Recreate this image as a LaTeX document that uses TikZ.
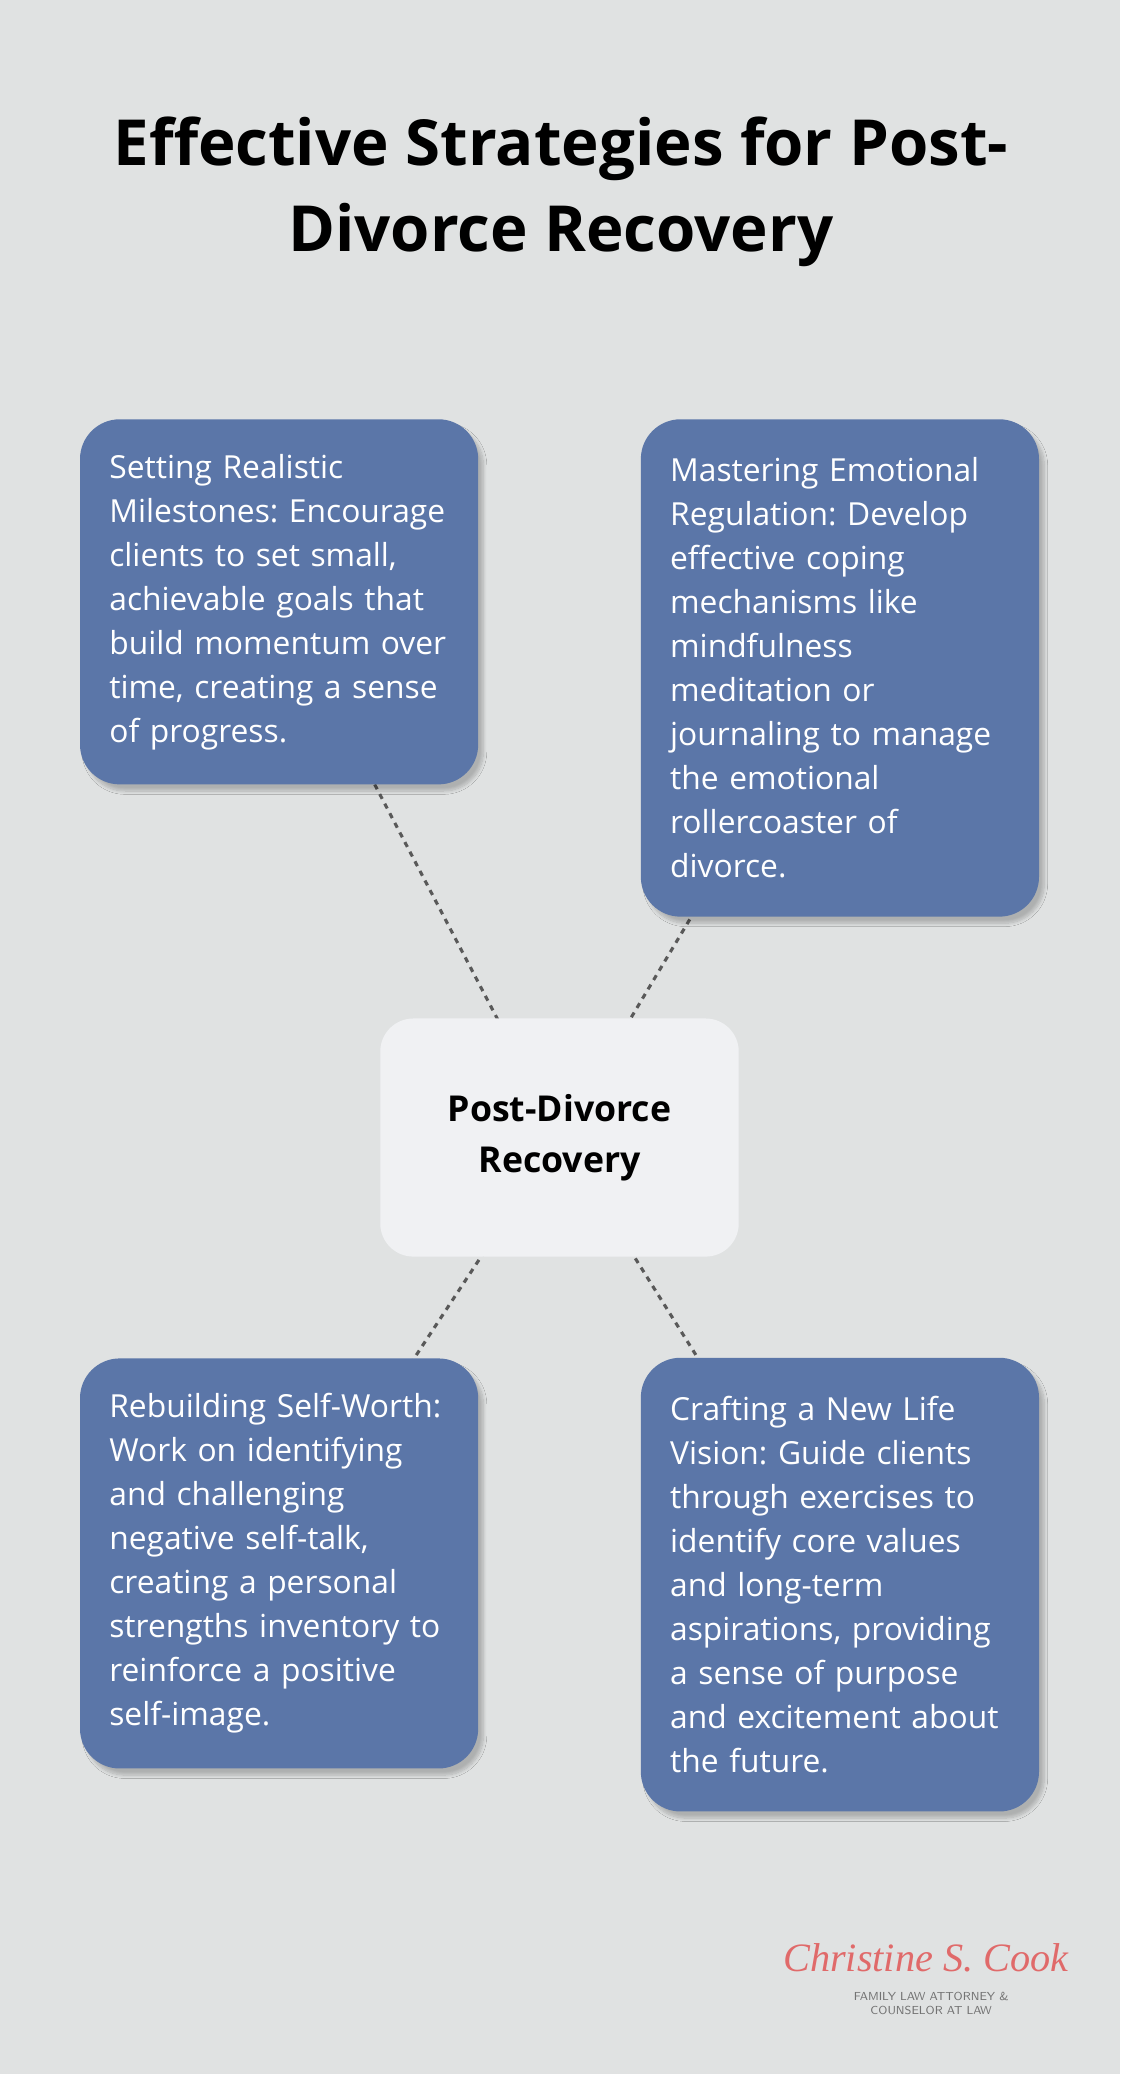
\documentclass[tikz,border=0pt]{standalone}
\usepackage{fontspec}
\setmainfont{Open Sans}
\newfontfamily\logofont{Liberation Serif}
\usetikzlibrary{backgrounds,shadows.blur}
\definecolor{bgcol}{HTML}{E0E2E2}
\definecolor{boxcol}{HTML}{5B76A8}
\definecolor{hubcol}{HTML}{F0F1F3}
\definecolor{logocol}{HTML}{E06A6A}
\frenchspacing
\hbadness=10000 \hfuzz=100pt

\tikzset{
  card/.style={fill=boxcol, rounded corners=0.9cm, minimum width=9.03cm,
    text width=7.7cm, inner sep=0.66cm, align=left, text=white,
    font=\fontsize{20.5}{28.4}\selectfont,
    blur shadow={shadow blur steps=10, shadow xshift=0.12cm, shadow yshift=-0.15cm, shadow opacity=22}},
  hub/.style={fill=hubcol, rounded corners=0.75cm, minimum width=8.13cm,
    minimum height=5.4cm, align=center,
    font=\fontsize{23}{33}\selectfont\bfseries},
  link/.style={dash pattern=on 3.5pt off 3.5pt, line width=2pt, color=black!65}
}

\begin{document}
\begin{tikzpicture}[x=0.03cm, y=-0.03cm]
\useasboundingbox (0,0) rectangle (847,1568);

\node[font=\fontsize{41}{56}\selectfont\bfseries, align=center] (title)
  at (424,145) {Effective Strategies for Post-\\Divorce Recovery};

\node[hub] (hub) at (423,860) {Post-Divorce\\Recovery};

\node[card, minimum height=8.28cm] (tl) at (211,455)
  {Setting Realistic\\Milestones: Encourage\\clients to set small,\\achievable goals that\\build momentum over\\time, creating a sense\\of progress.};
\node[card, minimum height=11.28cm] (tr) at (635,505)
  {Mastering Emotional\\Regulation: Develop\\effective coping\\mechanisms like\\mindfulness\\meditation or\\journaling to manage\\the emotional\\rollercoaster of\\divorce.};
\node[card, minimum height=9.3cm] (bl) at (211,1182)
  {Rebuilding Self-Worth:\\Work on identifying\\and challenging\\negative self-talk,\\creating a personal\\strengths inventory to\\reinforce a positive\\self-image.};
\node[card, minimum height=10.29cm] (br) at (635,1198)
  {Crafting a New Life\\Vision: Guide clients\\through exercises to\\identify core values\\and long-term\\aspirations, providing\\a sense of purpose\\and excitement about\\the future.};

% logo
\node[logocol, font=\logofont\itshape\fontsize{26}{26}\selectfont] (logo) at (700,1480) {Christine S. Cook};
\node[black!55, font=\sffamily\fontsize{7.5}{9}\selectfont, align=center] (logotag) at (704,1515)
  {FAMILY LAW ATTORNEY \&\\COUNSELOR AT LAW};

\begin{scope}[on background layer]
  \fill[bgcol] (0,0) rectangle (847,1568);
  \draw[link] (tl.center) -- (hub.center);
  \draw[link] (tr.center) -- (hub.center);
  \draw[link] (bl.center) -- (hub.center);
  \draw[link] (br.center) -- (hub.center);
\end{scope}
\end{tikzpicture}
\end{document}
